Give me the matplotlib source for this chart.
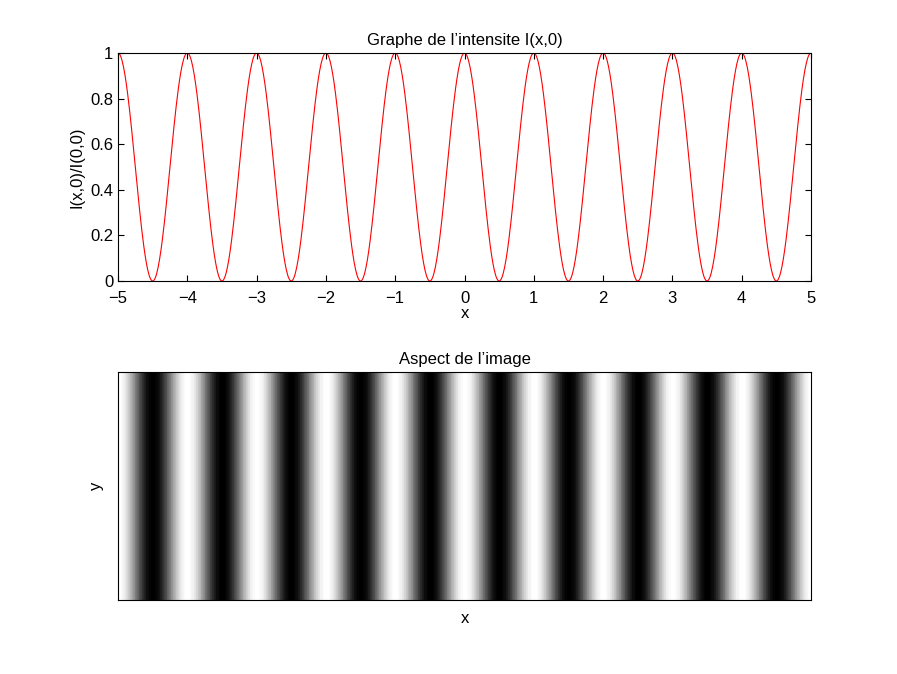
import numpy as np
import matplotlib
matplotlib.use("Agg")
import matplotlib.pyplot as plt

# fringe pattern parameters: I(x,0)/I(0,0) = cos^2(pi x / period)
x_min, x_max = -5, 5
period = 1.0
n_samples = 1001
x_ticks = [-5, -4, -3, -2, -1, 0, 1, 2, 3, 4, 5]
y_ticks = [0, 0.2, 0.4, 0.6, 0.8, 1]
tick_labels_x = ["\u22125", "\u22124", "\u22123", "\u22122", "\u22121", "0", "1", "2", "3", "4", "5"]
tick_labels_y = ["0", "0.2", "0.4", "0.6", "0.8", "1"]

x = np.linspace(x_min, x_max, n_samples)
intensity = np.cos(np.pi * x / period) ** 2

plt.rcParams["font.family"] = ["Liberation Sans", "DejaVu Sans"]
plt.rcParams["font.size"] = 12

fig = plt.figure(figsize=(8.97, 6.74), dpi=100)
W, H = 897, 674

ax1 = fig.add_axes([118 / W, 1 - 281 / H, (811 - 118) / W, (281 - 53) / H])
ax1.plot(x, intensity, color="red", lw=0.8)
ax1.set_xlim(x_min, x_max)
ax1.set_ylim(0, 1)
ax1.set_xticks(x_ticks)
ax1.set_xticklabels(tick_labels_x)
ax1.set_yticks(y_ticks)
ax1.set_yticklabels(tick_labels_y)
ax1.tick_params(direction="in", top=True, right=True, length=4)
ax1.tick_params(axis="x", pad=7)
ax1.set_xlabel("x", labelpad=0)
ax1.set_ylabel("I(x,0)/I(0,0)")
ax1.set_title("Graphe de l\u2019intensite I(x,0)", fontsize=12)

ax2 = fig.add_axes([118 / W, 1 - 600 / H, (811 - 118) / W, (600 - 372) / H])
img = np.tile(intensity, (10, 1))
cmap = plt.get_cmap("gray", 64)
ax2.imshow(img, cmap=cmap, aspect="auto", extent=[x_min, x_max, 0, 1],
           interpolation="nearest")
ax2.set_xticks([])
ax2.set_yticks([])
ax2.set_xlabel("x", labelpad=8)
ax2.set_ylabel("y", labelpad=10)
ax2.set_title("Aspect de l\u2019image", fontsize=12)

fig.savefig("out.png", dpi=100)
